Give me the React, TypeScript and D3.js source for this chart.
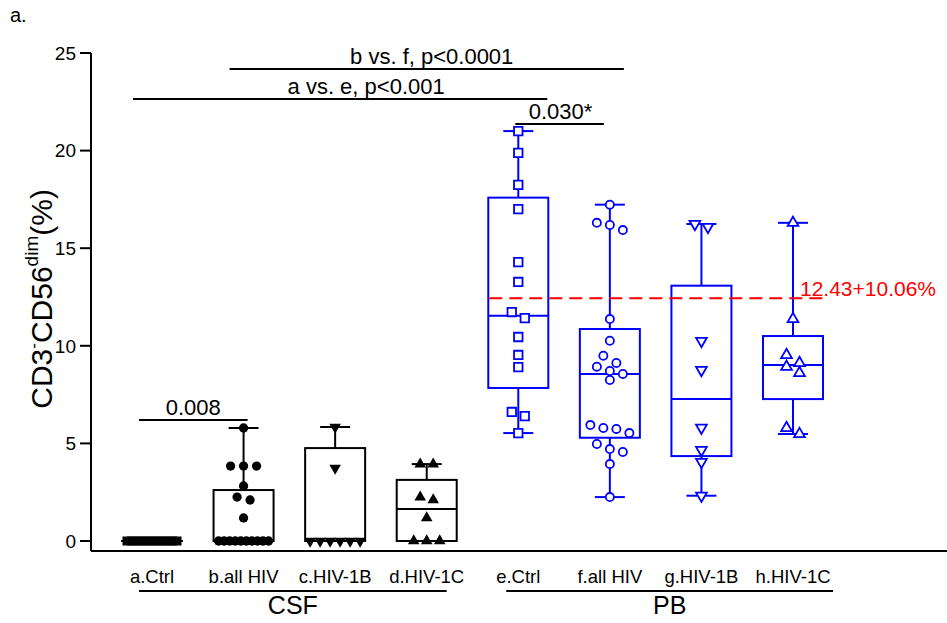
import React from "react";
import * as d3 from "d3";

// groups on the x axis and the tissue they belong to
const groups = ["a.Ctrl", "b.all HIV", "c.HIV-1B", "d.HIV-1C", "e.Ctrl", "f.all HIV", "g.HIV-1B", "h.HIV-1C"];
const tissues = ["CSF", "PB"];
const tissueGroups = [
  ["a.Ctrl", "d.HIV-1C"],
  ["e.Ctrl", "h.HIV-1C"],
];

// individual values (%)
const csfCtrl = [0, 0, 0, 0, 0, 0, 0, 0, 0, 0, 0, 0];
const csfAllHiv = [5.79, 3.84, 3.84, 3.84, 2.82, 2.25, 2.1, 1.18, 0, 0, 0, 0, 0, 0, 0, 0, 0, 0];
const csfHiv1B = [5.84, 3.74, 0, 0, 0, 0, 0, 0];
const csfHiv1C = [3.94, 3.94, 2.25, 2.1, 1.18, 0, 0, 0];
const pbCtrl = [21.0, 19.88, 18.24, 17.0, 14.29, 13.27, 11.73, 11.42, 10.45, 9.53, 8.91, 6.61, 6.4, 5.53];
const pbAllHiv = [17.23, 16.3, 16.19, 15.93, 11.37, 10.26, 9.49, 9.12, 8.93, 8.71, 8.56, 8.25, 5.94, 5.79, 5.74, 5.53, 4.97, 4.71, 4.56, 3.94, 2.25];
const pbHiv1B = [16.24, 16.09, 10.25, 8.76, 5.8, 4.66, 4.05, 2.32];
const pbHiv1C = [16.3, 11.37, 9.53, 9.12, 8.93, 8.61, 5.79, 5.48];
const groupValues = [csfCtrl, csfAllHiv, csfHiv1B, csfHiv1C, pbCtrl, pbAllHiv, pbHiv1B, pbHiv1C];

// box plot stats
const whiskerLow = [0, 0, 0, 0, 5.53, 2.25, 2.32, 5.48];
const boxQ1 = [0, 0, 0, 0, 7.84, 5.29, 4.35, 7.27];
const boxMedian = [0, 0, 0, 1.64, 11.54, 8.56, 7.27, 9.02];
const boxQ3 = [0, 2.61, 4.76, 3.13, 17.59, 10.86, 13.08, 10.5];
const whiskerHigh = [0, 5.79, 5.84, 3.94, 21.0, 17.23, 16.24, 16.3];

const yTicks = [0, 5, 10, 15, 20, 25];

// healthy PB reference
const refMean = 12.43;
const refLabel = "12.43+10.06%";

// significance brackets
const comparisons = [
  { from: "a.Ctrl", to: "b.all HIV", level: 6.2, label: "0.008" },
  { from: "e.Ctrl", to: "f.all HIV", level: 21.36, label: "0.030*" },
  { from: "a.Ctrl", to: "e.Ctrl", level: 22.64, label: "a vs. e, p<0.001" },
  { from: "b.all HIV", to: "f.all HIV", level: 24.18, label: "b vs. f, p<0.0001" },
];

// layout tweaks for brackets: [left overhang, right overhang, label shift]
const bracketPad = [[-13, 4, 0], [-3, -6, 1], [-19, 29, 26], [-14, 14, 5]];

const FONT = "'Liberation Sans', Arial, sans-serif";

// spread points with about the same value side by side
function dodge(values: number[], cx: number, y: (v: number) => number) {
  const order = values.map((v, i) => i).sort((a, b) => values[b] - values[a]);
  const xs = new Array(values.length).fill(cx);
  let i = 0;
  while (i < order.length) {
    const start = y(values[order[i]]);
    let j = i;
    while (j < order.length && y(values[order[j]]) - start < 9) j++;
    const n = j - i;
    const step = n > 1 ? Math.min(13, 50 / (n - 1)) : 0;
    for (let k = 0; k < n; k++) xs[order[i + k]] = cx + (k - (n - 1) / 2) * step;
    i = j;
  }
  return xs;
}

export default function App() {
  const width = 947, height = 623;
  const x = d3.scalePoint<string>().domain(groups).range([152, 793]);
  const y = d3.scaleLinear().domain([0, 25]).range([541, 53]);
  const axisX = 91, axisY = 551;
  const boxW = 60, capW = 30;

  const colorOf = (i: number) => (i < 4 ? "#000000" : "#0000ff");
  const symbols = [
    { type: d3.symbolSquare, rot: 0 },
    { type: d3.symbolCircle, rot: 0 },
    { type: d3.symbolTriangle, rot: 180 },
    { type: d3.symbolTriangle, rot: 0 },
  ];
  const markerPath = (i: number) => {
    const s = symbols[i % 4];
    const filled = i < 4;
    let size = 64;
    if (s.type === d3.symbolSquare) size = filled ? 81 : 72;
    if (s.type === d3.symbolCircle) size = filled ? 68 : 52;
    if (s.type === d3.symbolTriangle) size = filled ? 58 : 50;
    return d3.symbol().type(s.type).size(size)() as string;
  };

  return (
    <svg width={width} height={height} style={{ position: "absolute", left: 0, top: 0 }} fontFamily={FONT}>
      <rect width={width} height={height} fill="#fff" />
      <text x={10} y={22} fontSize={20}>a.</text>

      {/* y axis */}
      <line x1={axisX} x2={axisX} y1={y(25)} y2={axisY} stroke="#000" strokeWidth={2} />
      {yTicks.map((t) => (
        <g key={t}>
          <line x1={axisX - 11} x2={axisX} y1={y(t)} y2={y(t)} stroke="#000" strokeWidth={2} />
          <text x={axisX - 15} y={y(t)} dy="0.36em" textAnchor="end" fontSize={19}>{t}</text>
        </g>
      ))}
      <text transform={`translate(52,${y(12.4)}) rotate(-90)`} textAnchor="middle" fontSize={30}>
        CD3<tspan fontSize={17} dy={-13}>-</tspan>
        <tspan dy={13}>CD56</tspan>
        <tspan fontSize={19} dy={-14}>dim</tspan>
        <tspan dy={14}>(%)</tspan>
      </text>

      {/* x axis */}
      <line x1={axisX} x2={width} y1={axisY} y2={axisY} stroke="#000" strokeWidth={2} />
      {groups.map((g) => (
        <text key={g} x={x(g)} y={583} textAnchor="middle" fontSize={18.5}>{g}</text>
      ))}
      {tissues.map((t, i) => {
        const x1 = (x(tissueGroups[i][0]) as number) - (i === 0 ? 13 : 12);
        const x2 = (x(tissueGroups[i][1]) as number) + (i === 0 ? 20 : 40);
        return (
          <g key={t}>
            <line x1={x1} x2={x2} y1={591} y2={591} stroke="#000" strokeWidth={2} />
            <text x={(x1 + x2) / 2} y={614} textAnchor="middle" fontSize={25}>{t}</text>
          </g>
        );
      })}

      {/* boxes */}
      {groups.map((g, i) => {
        const cx = x(g) as number;
        const c = colorOf(i);
        return (
          <g key={g} stroke={c} strokeWidth={2} fill="none">
            <line x1={cx} x2={cx} y1={y(boxQ3[i])} y2={y(whiskerHigh[i])} />
            <line x1={cx} x2={cx} y1={y(boxQ1[i])} y2={y(whiskerLow[i])} />
            <line x1={cx - capW / 2} x2={cx + capW / 2} y1={y(whiskerHigh[i])} y2={y(whiskerHigh[i])} />
            <line x1={cx - capW / 2} x2={cx + capW / 2} y1={y(whiskerLow[i])} y2={y(whiskerLow[i])} />
            <rect x={cx - boxW / 2} width={boxW} y={y(boxQ3[i])} height={Math.max(0.01, y(boxQ1[i]) - y(boxQ3[i]))} />
            <line x1={cx - boxW / 2} x2={cx + boxW / 2} y1={y(boxMedian[i])} y2={y(boxMedian[i])} />
          </g>
        );
      })}

      {/* reference line */}
      <line x1={(x("e.Ctrl") as number) - 29} x2={(x("h.HIV-1C") as number) + 30} y1={y(refMean)} y2={y(refMean)}
        stroke="#ff0000" strokeWidth={2} strokeDasharray="13,7" />
      <text x={800} y={y(refMean) - 2} fontSize={21} fill="#ff0000">{refLabel}</text>

      {/* points */}
      {groupValues.map((vals, i) => {
        const cx = x(groups[i]) as number;
        const xs = dodge(vals, cx, y);
        const c = colorOf(i);
        const filled = i < 4;
        const d = markerPath(i);
        return (
          <g key={i}>
            {vals.map((v, k) => (
              <path key={k} d={d} transform={`translate(${xs[k]},${y(v)}) rotate(${symbols[i % 4].rot})`}
                fill={filled ? c : "#fff"} stroke={c} strokeWidth={filled ? 0 : 1.8} />
            ))}
          </g>
        );
      })}

      {/* significance */}
      {comparisons.map((cmp, i) => {
        const x1 = (x(cmp.from) as number) + bracketPad[i][0];
        const x2 = (x(cmp.to) as number) + bracketPad[i][1];
        const ly = y(cmp.level);
        return (
          <g key={cmp.label}>
            <line x1={x1} x2={x2} y1={ly} y2={ly} stroke="#000" strokeWidth={2} />
            <text x={(x1 + x2) / 2 + bracketPad[i][2]} y={ly - 5} textAnchor="middle" fontSize={22}>{cmp.label}</text>
          </g>
        );
      })}
    </svg>
  );
}
